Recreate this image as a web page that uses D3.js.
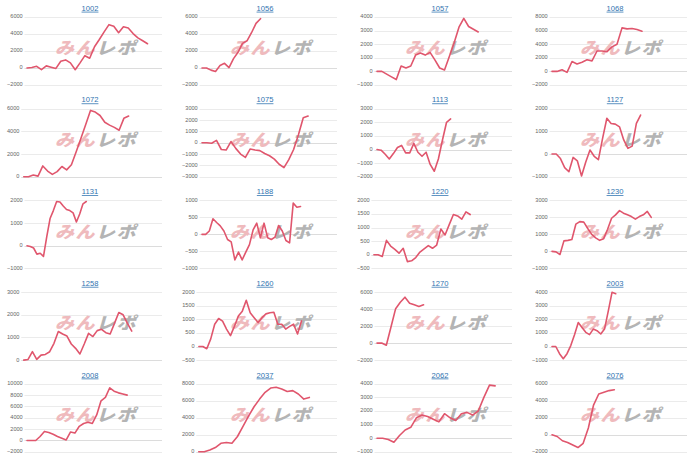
<!DOCTYPE html>
<html><head><meta charset="utf-8">
<script src="https://cdn.jsdelivr.net/npm/d3@7"></script>
<style>html,body{margin:0;padding:0;background:#fff;}svg{display:block;}</style>
</head><body>
<svg id="c" width="700" height="460"></svg>
<script>
const codes = ["1002","1056","1057","1068","1072","1075","1113","1127","1131","1188","1220","1230","1258","1260","1270","2003","2008","2037","2062","2076"];

const s1002 = [0,50,200,-200,250,100,-50,800,950,600,-200,600,1450,1150,2500,3350,4250,5100,4900,4150,4850,4700,4050,3550,3200,2850];
const s1056 = [0,0,-250,-400,300,550,50,1100,1850,2900,3200,4150,5250,5800];
const s1057 = [0,0,-200,-400,-600,400,250,400,1200,1350,1200,1400,850,250,100,1100,2100,3250,3900,3300,3100,2900];
const s1068 = [0,0,250,-150,1450,1100,1350,1700,1550,3000,3000,2900,3600,4000,6400,6250,6300,6150,5900];
const s1072 = [0,0,150,50,950,500,200,450,900,600,1050,2200,3400,4600,5850,5700,5400,4800,4550,4350,4100,5150,5350];
const s1075 = [0,0,-50,200,-600,-650,100,-500,-1000,-1300,-550,-650,-700,-950,-1150,-1450,-1900,-2200,-1500,-600,700,2200,2350];
const s1113 = [0,-50,-350,-700,-300,150,300,-250,-250,450,-200,-500,-200,-1100,-1600,-700,700,2000,2250];
const s1127 = [0,0,-200,-600,-780,-150,-300,-970,-350,180,-100,-250,700,1580,1350,1320,1200,620,250,350,1350,1720];
const s1131 = [0,-30,-100,-370,-330,-470,400,1200,1550,1950,1930,1750,1600,1550,1450,1050,1400,1850,1950];
const s1188 = [0,0,100,460,350,250,100,-150,-220,-750,-520,-750,-520,-300,130,330,-100,330,-100,-150,-80,260,100,-180,-250,920,800,820];
const s1220 = [0,0,-60,530,320,200,60,240,-250,-220,-100,100,220,340,240,360,950,730,1110,1480,1430,1310,1580,1480];
const s1230 = [0,-30,-180,620,650,700,1600,1750,1720,1350,1000,800,650,750,1300,1950,2150,2400,2250,2150,2050,1900,2050,2150,2350,2000];
const s1258 = [0,30,370,30,220,250,370,740,1260,1150,1060,710,520,270,710,1180,1040,1300,1360,1210,1150,1620,2100,2000,1620,1280];
const s1260 = [0,0,-80,280,820,1030,930,640,400,740,1120,1300,1700,1240,1060,880,1060,1200,1240,1260,820,820,640,740,820,460,940];
const s1270 = [0,0,-250,1900,4050,4800,5400,4700,4500,4300,4500];
const s2003 = [0,0,-530,-900,-530,70,870,1760,1400,1040,870,1280,1160,920,1280,2600,3980,3880];
const s2008 = [0,0,0,700,1600,1400,1100,700,400,100,1500,1300,2500,3000,3200,3000,4500,7000,7600,9300,8700,8400,8200,8000];
const s2037 = [0,0,200,500,1000,1100,1000,1800,3000,4200,5300,6200,7000,7500,7600,7400,7100,7200,6800,6200,6400];
const s2062 = [0,0,-100,-300,200,600,800,1500,1700,1600,1400,1200,1800,1500,1300,1800,1900,1700,2000,3000,3900,3850];
const s2076 = [0,-200,-700,-900,-1200,-1500,-1000,800,3500,4800,5000,5200,5300];

const series = [s1002,s1056,s1057,s1068,s1072,s1075,s1113,s1127,s1131,s1188,s1220,s1230,s1258,s1260,s1270,s2003,s2008,s2037,s2062,s2076];
// number of x categories (days) on each panel's axis
const slots = [29,31,29,28,30,29,34,33,42,38,34,35,33,36,30,37,32,26,25,27];

const yTicks = [
  [-2000,0,2000,4000,6000],[-2000,0,2000,4000,6000],[-1000,0,1000,2000,3000,4000],[-2000,0,2000,4000,6000,8000],
  [0,2000,4000,6000],[-3000,-2000,-1000,0,1000,2000,3000],[-2000,-1000,0,1000,2000,3000],[-1000,0,1000,2000],
  [-1000,0,1000,2000],[-1000,-500,0,500,1000],[-500,0,500,1000,1500,2000],[-1000,0,1000,2000,3000],
  [0,1000,2000,3000],[-500,0,500,1000,1500,2000],[-2000,0,2000,4000,6000],[-1000,0,1000,2000,3000,4000],
  [-2000,0,2000,4000,6000,8000,10000],[0,2000,4000,6000,8000],[-1000,0,1000,2000,3000,4000],[-2000,0,2000,4000,6000]
];

const svg = d3.select("#c");
const colW = 175, rowH = 91.7, top0 = 17, plotH = 68;
const lineColor = "#e0566d";

codes.forEach((code, i) => {
  const col = i % 4, row = Math.floor(i / 4);
  const px = col * colW;
  const top = top0 + row * rowH;
  const ticks = yTicks[i];
  const g = svg.append("g");

  const lab = g.append("g").attr("font-family","Liberation Sans, Arial, sans-serif")
    .attr("font-size","5.6px").attr("fill","#666");
  const texts = lab.selectAll("text").data(ticks).join("text").text(d => d3.format("d")(d));
  let maxW = 0;
  texts.each(function(){ maxW = Math.max(maxW, this.getComputedTextLength()); });
  const left = px + 7 + maxW + 4.3;
  const right = px + 162;

  const y = d3.scaleLinear().domain([ticks[0], ticks[ticks.length-1]]).range([top + plotH, top]);
  const x = d3.scaleLinear().domain([0, slots[i]-1]).range([left, right]);

  texts.attr("x", left - 4.3).attr("y", d => y(d)).attr("text-anchor","end").attr("dominant-baseline","middle");

  g.insert("g", ":first-child").selectAll("line").data(ticks).join("line")
    .attr("x1", left - 2.5).attr("x2", right)
    .attr("y1", d => Math.round(y(d)) + 0.5).attr("y2", d => Math.round(y(d)) + 0.5)
    .attr("stroke", d => d === 0 ? "#dcdcdc" : "#ebebeb").attr("stroke-width", 1);

  const wm = g.append("text")
    .attr("transform", `translate(${px + 98},${top + 30}) skewX(-16) scale(1,0.88)`)
    .attr("text-anchor","middle").attr("dominant-baseline","central")
    .attr("font-family","Noto Sans CJK JP, sans-serif").attr("font-weight","900")
    .attr("font-size","19px").attr("letter-spacing","1.5px");
  wm.append("tspan").attr("fill","#efbabd").text("みん");
  wm.append("tspan").attr("fill","#b4b4b4").text("レポ");

  g.append("text").attr("x", px + 90).attr("y", top - 6.3)
    .attr("text-anchor","middle").attr("font-family","Liberation Sans, Arial, sans-serif")
    .attr("font-size","7.6px").attr("fill","#2f73b0").attr("text-decoration","underline")
    .text(code);

  const line = d3.line().x((d, j) => x(j)).y(d => y(d));
  g.append("path").datum(series[i]).attr("d", line)
    .attr("fill","none").attr("stroke", lineColor).attr("stroke-width", 1.6)
    .attr("stroke-linejoin","round").attr("stroke-linecap","round");
});
</script>
</body></html>
